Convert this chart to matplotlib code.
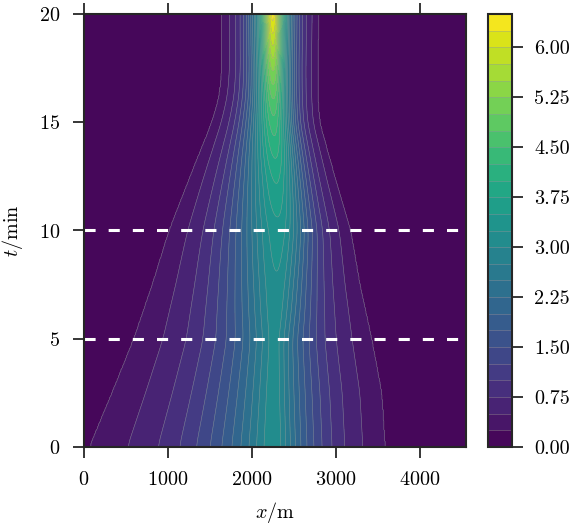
import numpy as np
import matplotlib.pyplot as plt

plt.rcParams['font.family'] = 'serif'
plt.rcParams['font.serif'] = ['cmr10']
plt.rcParams['mathtext.fontset'] = 'cm'
plt.rcParams['axes.unicode_minus'] = False
plt.rcParams['axes.formatter.use_mathtext'] = True
plt.rcParams['lines.scale_dashes'] = False

# values, one per time row
t_rows = [0, 2.5, 5, 7.5, 10, 12.5, 15, 16.25, 17.5, 20]             # min
left_front = [60, 330, 590, 810, 1010, 1260, 1520, 1610, 1640, 1640]  # m
right_front = [3590, 3550, 3430, 3290, 3180, 2990, 2810, 2790, 2790, 2800]
peak_x = [2260, 2260, 2270, 2290, 2310, 2290, 2260, 2255, 2250, 2250]
peak_value = [3.2, 3.15, 3.1, 3.2, 3.4, 3.8, 4.4, 4.8, 5.3, 6.4]
core_width = [90, 80, 80, 200, 300, 250, 170, 130, 100, 60]
front_value = 0.3

levels = np.arange(0, 6.75, 0.25)
cbar_ticks = [0.0, 0.75, 1.5, 2.25, 3.0, 3.75, 4.5, 5.25, 6.0]
x_ticks = [0, 1000, 2000, 3000, 4000]
t_ticks = [0, 5, 10, 15, 20]
dashed_t = [5, 10]

# build the field from the row parameters
x = np.linspace(0, 4550, 600)
t = np.linspace(0, 20, 400)


def row(vals):
    v = np.interp(t, t_rows, vals)
    k = np.ones(21) / 21
    v = np.convolve(np.pad(v, 10, mode='edge'), k, mode='valid')
    return v[:, None]


xl, xr, xc, A, w = (row(v) for v in (left_front, right_front, peak_x, peak_value, core_width))
X = x[None, :]
span = np.log(A / front_value)
Ll = (np.sqrt((xc - xl) ** 2 + w ** 2) - w) / span
Lr = (np.sqrt((xr - xc) ** 2 + w ** 2) - w) / span
d = np.sqrt((X - xc) ** 2 + w ** 2) - w
Z = A * np.exp(-d / np.where(X < xc, Ll, Lr))
Z = np.where((X < xl) | (X > xr), 0.0, Z)

fig = plt.figure(figsize=(5.82, 5.30), dpi=100)
ax = fig.add_axes([84 / 582, 83 / 530, 382 / 582, 433 / 530])
cax = fig.add_axes([488 / 582, 83 / 530, 24 / 582, 433 / 530])

cs = ax.contourf(x, t, Z, levels=levels, cmap='viridis')
cl = ax.contour(x, t, Z, levels=levels[1:], colors='0.6', linewidths=0.4, alpha=0.7)
for yy in dashed_t:
    ax.axhline(yy, color='white', lw=2.2, dashes=(8, 9.4))

ax.set_xlim(0, 4550)
ax.set_ylim(0, 20)
ax.set_xticks(x_ticks)
ax.set_yticks(t_ticks)
ax.set_xlabel(r'$x/\mathrm{m}$', fontsize=14.5, labelpad=8)
ax.set_ylabel(r'$t/\mathrm{min}$', fontsize=14.5, labelpad=10)
ax.tick_params(axis='both', direction='out', length=8, width=1.3, color='#262626',
               labelsize=14.5, pad=9, top=True, labeltop=False)
for s in ax.spines.values():
    s.set_linewidth(1.5)
    s.set_color('#262626')

cbar = fig.colorbar(cs, cax=cax, ticks=cbar_ticks, format='%.2f')
cbar.add_lines(cl)
cbar.outline.set_linewidth(1.5)
cbar.outline.set_edgecolor('#262626')
cax.tick_params(direction='out', length=8, width=1.3, color='#262626', labelsize=14.5, pad=8)

fig.savefig('out.png', dpi=100)
